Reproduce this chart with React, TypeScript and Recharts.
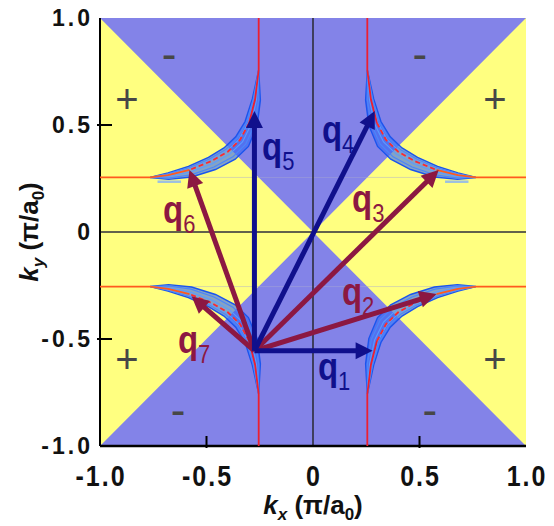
import React from 'react';
import {
  ComposedChart,
  Area,
  Scatter,
  XAxis,
  YAxis,
  ReferenceLine,
  CartesianGrid,
  Label,
} from 'recharts';

const FONT = '"Liberation Sans", Arial, Helvetica, sans-serif';
const BLUE_BG = '#8383e8';
const YELLOW = '#ffff80';
const NAVY = '#10108c';
const CRIMSON = '#8c1842';

// ---------- data ----------
const xTicks = [-1, -0.5, 0, 0.5, 1];
const yTicks = [-1, -0.5, 0, 0.5, 1];
const innerTicks = [-0.5, 0.5];

// "+" region (|ky| < |kx|), the rest of the zone is "-"
const yellowBand = [
  { x: -1, band: [-1, 1] },
  { x: 0, band: [0, 0] },
  { x: 1, band: [-1, 1] },
];

// upper-left Fermi-arc crescent; the other three follow by mirror symmetry
const fsTop = [
  { x: -0.255, y: 1 },
  { x: -0.255, y: 0.757 },
  { x: -0.272, y: 0.62 },
  { x: -0.3, y: 0.51 },
];
const fsMid = [
  { x: -0.3, y: 0.51 },
  { x: -0.343, y: 0.43 },
  { x: -0.4, y: 0.375 },
  { x: -0.48, y: 0.33 },
  { x: -0.58, y: 0.29 },
];
const fsSide = [
  { x: -0.58, y: 0.29 },
  { x: -0.68, y: 0.266 },
  { x: -0.765, y: 0.255 },
  { x: -1, y: 0.255 },
];
const lensA = [
  { x: -0.255, y: 0.757 },
  { x: -0.247, y: 0.616 },
  { x: -0.262, y: 0.498 },
  { x: -0.303, y: 0.4 },
  { x: -0.365, y: 0.34 },
  { x: -0.458, y: 0.292 },
  { x: -0.57, y: 0.257 },
  { x: -0.678, y: 0.246 },
  { x: -0.765, y: 0.255 },
  { x: -0.681, y: 0.276 },
  { x: -0.585, y: 0.307 },
  { x: -0.491, y: 0.349 },
  { x: -0.418, y: 0.393 },
  { x: -0.363, y: 0.445 },
  { x: -0.319, y: 0.516 },
  { x: -0.285, y: 0.622 },
  { x: -0.255, y: 0.757 },
];
const lensB = [
  { x: -0.255, y: 0.757 },
  { x: -0.255, y: 0.617 },
  { x: -0.274, y: 0.502 },
  { x: -0.316, y: 0.41 },
  { x: -0.376, y: 0.351 },
  { x: -0.465, y: 0.304 },
  { x: -0.573, y: 0.267 },
  { x: -0.679, y: 0.252 },
  { x: -0.765, y: 0.255 },
  { x: -0.681, y: 0.272 },
  { x: -0.583, y: 0.3 },
  { x: -0.487, y: 0.341 },
  { x: -0.41, y: 0.386 },
  { x: -0.355, y: 0.439 },
  { x: -0.311, y: 0.514 },
  { x: -0.28, y: 0.621 },
  { x: -0.255, y: 0.757 },
];
const lensC = [
  { x: -0.255, y: 0.757 },
  { x: -0.265, y: 0.619 },
  { x: -0.289, y: 0.506 },
  { x: -0.331, y: 0.421 },
  { x: -0.39, y: 0.365 },
  { x: -0.473, y: 0.319 },
  { x: -0.577, y: 0.28 },
  { x: -0.679, y: 0.26 },
  { x: -0.765, y: 0.255 },
  { x: -0.68, y: 0.27 },
  { x: -0.581, y: 0.293 },
  { x: -0.482, y: 0.334 },
  { x: -0.404, y: 0.379 },
  { x: -0.347, y: 0.433 },
  { x: -0.304, y: 0.511 },
  { x: -0.275, y: 0.62 },
  { x: -0.255, y: 0.757 },
];
const shadowSeg = [
  { x: -0.73, y: 0.235 },
  { x: -0.62, y: 0.235 },
];
const quadrants = [
  { sx: 1, sy: 1 },
  { sx: -1, sy: 1 },
  { sx: 1, sy: -1 },
  { sx: -1, sy: -1 },
];

// scattering vectors q1..q7 from the common octet point
const qOrigin = { x: -0.275, y: -0.555 };
const qTargets = [
  { sub: '1', x: 0.28, y: -0.555 },
  { sub: '2', x: 0.58, y: -0.29 },
  { sub: '3', x: 0.59, y: 0.29 },
  { sub: '4', x: 0.29, y: 0.565 },
  { sub: '5', x: -0.275, y: 0.565 },
  { sub: '6', x: -0.58, y: 0.29 },
  { sub: '7', x: -0.57, y: -0.3 },
];
const qLabels = [
  { sub: '1', x: 0.023, y: -0.692 },
  { sub: '2', x: 0.136, y: -0.341 },
  { sub: '3', x: 0.183, y: 0.093 },
  { sub: '4', x: 0.042, y: 0.416 },
  { sub: '5', x: -0.239, y: 0.336 },
  { sub: '6', x: -0.704, y: 0.042 },
  { sub: '7', x: -0.634, y: -0.565 },
];
const signs = [
  { sign: '+', x: -0.873, y: 0.621 },
  { sign: '+', x: 0.854, y: 0.621 },
  { sign: '+', x: -0.873, y: -0.593 },
  { sign: '+', x: 0.854, y: -0.593 },
  { sign: '-', x: -0.676, y: 0.818 },
  { sign: '-', x: 0.502, y: 0.818 },
  { sign: '-', x: -0.634, y: -0.846 },
  { sign: '-', x: 0.549, y: -0.846 },
];

// ---------- styling helpers ----------
const Q_COLOR: Record<string, string> = {
  '1': NAVY,
  '4': NAVY,
  '5': NAVY,
  '2': CRIMSON,
  '3': CRIMSON,
  '6': CRIMSON,
  '7': CRIMSON,
};

const mirror = (pts: { x: number; y: number }[], q: { sx: number; sy: number }) =>
  pts.map((p) => ({ x: p.x * q.sx, y: p.y * q.sy }));

const fmt = (v: number) => (v === 0 ? '0' : v.toFixed(1));

const NoDot = () => <g />;

const LeftTick = (props: any) => {
  const { x, y, payload } = props;
  const v = payload.value;
  const ax = x + 7;
  return (
    <g>
      {innerTicks.includes(v) && (
        <line x1={ax - 3} y1={y} x2={ax + 12} y2={y} stroke="#000" strokeWidth={2} />
      )}
      <text
        x={x}
        y={y}
        dy={8}
        textAnchor="end"
        fontFamily={FONT}
        fontWeight="bold"
        fontSize={23}
        letterSpacing={3}
        fill="#111"
      >
        {fmt(v)}
      </text>
    </g>
  );
};

const BottomTick = (props: any) => {
  const { x, y, payload } = props;
  const v = payload.value;
  const ay = y - 10;
  return (
    <g>
      {innerTicks.includes(v) && (
        <line x1={x} y1={ay + 2} x2={x} y2={ay - 10} stroke="#000" strokeWidth={2} />
      )}
      <g transform={`translate(${x + 1},${ay}) scale(1,1.15)`}>
        <text
          x={0}
          y={35}
          textAnchor="middle"
          fontFamily={FONT}
          fontWeight="bold"
          fontSize={25}
          letterSpacing={2}
          fill="#111"
        >
          {fmt(v)}
        </text>
      </g>
    </g>
  );
};

const TopTick = (props: any) => {
  const { x, y, payload } = props;
  if (!innerTicks.includes(payload.value)) return <g />;
  return <line x1={x} y1={y} x2={x} y2={y + 12} stroke="#000" strokeWidth={2} />;
};

const RightTick = (props: any) => {
  const { x, y, payload } = props;
  if (!innerTicks.includes(payload.value)) return <g />;
  return <line x1={x} y1={y} x2={x - 12} y2={y} stroke="#000" strokeWidth={2} />;
};

const XTitle = (props: any) => {
  const vb = props.viewBox || { x: 100, y: 446, width: 426, height: 80 };
  const cx = vb.x + vb.width / 2;
  const y = vb.y + 68;
  return (
    <text x={cx} y={y} textAnchor="middle" fontFamily={FONT} fontWeight="bold" fontSize={26} fill="#111">
      <tspan fontStyle="italic">k</tspan>
      <tspan fontStyle="italic" fontSize={17} dy={6}>x</tspan>
      <tspan dy={-6}>{'\u00a0(π/a'}</tspan>
      <tspan fontSize={17} dy={6}>0</tspan>
      <tspan dy={-6}>)</tspan>
    </text>
  );
};

const YTitle = (props: any) => {
  const vb = props.viewBox || { x: 8, y: 18, width: 92, height: 428 };
  const x = vb.x + 30;
  const cy = vb.y + vb.height / 2;
  return (
    <text
      x={x}
      y={cy}
      transform={`rotate(-90, ${x}, ${cy})`}
      textAnchor="middle"
      fontFamily={FONT}
      fontWeight="bold"
      fontSize={26}
      fill="#111"
    >
      <tspan fontStyle="italic">k</tspan>
      <tspan fontStyle="italic" fontSize={17} dy={6}>y</tspan>
      <tspan dy={-6}>{'\u00a0(π/a'}</tspan>
      <tspan fontSize={17} dy={6}>0</tspan>
      <tspan dy={-6}>)</tspan>
    </text>
  );
};

const makeArrow = (color: string) => (props: any) => {
  const { x1, y1, x2, y2 } = props;
  const dx = x2 - x1;
  const dy = y2 - y1;
  const len = Math.hypot(dx, dy) || 1;
  const ux = dx / len;
  const uy = dy / len;
  const L = 17;
  const W = 8.5;
  const bx = x2 - ux * L;
  const by = y2 - uy * L;
  const px = -uy;
  const py = ux;
  return (
    <g>
      <line x1={x1} y1={y1} x2={bx + ux * 2} y2={by + uy * 2} stroke={color} strokeWidth={5} />
      <polygon
        points={`${x2},${y2} ${bx + px * W},${by + py * W} ${bx - px * W},${by - py * W}`}
        fill={color}
      />
    </g>
  );
};

const QLabel = (p: any) => {
  const { cx, cy, payload } = p;
  const color = Q_COLOR[payload.sub];
  return (
    <text
      x={cx}
      y={cy}
      transform={`translate(0 ${cy}) scale(1 1.15) translate(0 ${-cy})`}
      fontFamily={FONT}
      fill={color}
    >
      <tspan fontSize={33} fontWeight="bold">q</tspan>
      <tspan fontSize={22} dy={9}>{payload.sub}</tspan>
    </text>
  );
};

const SignMark = (p: any) => {
  const plus = p.payload.sign === '+';
  return (
    <text
      x={p.cx}
      y={p.cy + (plus ? 14 : 12)}
      textAnchor="middle"
      fontFamily={FONT}
      fontSize={plus ? 40 : 44}
      fill="#474747"
    >
      {p.payload.sign}
    </text>
  );
};

export default function App() {
  const redFirst = [
    ...qTargets.filter((t) => Q_COLOR[t.sub] === CRIMSON),
    ...qTargets.filter((t) => Q_COLOR[t.sub] !== CRIMSON),
  ];
  return (
    <div style={{ fontFamily: FONT, marginTop: -8, marginLeft: -8 }}>
      <style>{'html,body{overflow:hidden}'}</style>
      <ComposedChart
        width={554}
        height={526}
        data={yellowBand}
        margin={{ top: 18, right: 28, bottom: 0, left: 8 }}
      >
        <CartesianGrid fill={BLUE_BG} fillOpacity={1} horizontal={false} vertical={false} stroke="none" />
        <XAxis
          dataKey="x"
          type="number"
          domain={[-1, 1]}
          ticks={xTicks}
          interval={0}
          allowDataOverflow
          height={80}
          tickSize={0}
          tickMargin={10}
          tick={BottomTick}
          axisLine={{ stroke: '#000', strokeWidth: 2.5 }}
        >
          <Label content={XTitle} />
        </XAxis>
        <XAxis
          xAxisId="top"
          orientation="top"
          type="number"
          domain={[-1, 1]}
          ticks={xTicks}
          interval={0}
          allowDataOverflow
          height={0}
          tickSize={0}
          tickMargin={0}
          tick={TopTick}
          axisLine={{ stroke: '#000', strokeWidth: 2 }}
        />
        <YAxis
          dataKey="y"
          type="number"
          domain={[-1, 1]}
          ticks={yTicks}
          interval={0}
          allowDataOverflow
          width={92}
          tickSize={0}
          tickMargin={7}
          tick={LeftTick}
          axisLine={{ stroke: '#000', strokeWidth: 2 }}
        >
          <Label content={YTitle} />
        </YAxis>
        <YAxis
          yAxisId="right"
          orientation="right"
          type="number"
          domain={[-1, 1]}
          ticks={yTicks}
          interval={0}
          allowDataOverflow
          width={0}
          tickSize={0}
          tickMargin={0}
          tick={RightTick}
          axisLine={{ stroke: '#000', strokeWidth: 2 }}
        />

        <Area
          dataKey="band"
          type="linear"
          fill={YELLOW}
          fillOpacity={1}
          stroke="none"
          isAnimationActive={false}
          dot={false}
          activeDot={false}
        />

        <ReferenceLine y={0.255} stroke="#a8a8d0" strokeOpacity={0.45} strokeWidth={1} zIndex={150} />
        <ReferenceLine y={-0.255} stroke="#a8a8d0" strokeOpacity={0.45} strokeWidth={1} zIndex={150} />
        <ReferenceLine x={0} stroke="#2e2e3a" strokeWidth={1.6} zIndex={160} />
        <ReferenceLine y={0} stroke="#2e2e3a" strokeWidth={1.6} zIndex={160} />

        {quadrants.map((q, i) => (
          <Scatter
            key={`la${i}`}
            data={mirror(lensA, q)}
            line={{ stroke: '#1a55ee', strokeWidth: 1.4, fill: '#3366f2', fillOpacity: 0.6 }}
            lineType="joint"
            shape={NoDot}
            isAnimationActive={false}
          />
        ))}
        {quadrants.map((q, i) => (
          <Scatter
            key={`lb${i}`}
            data={mirror(lensB, q)}
            line={{ stroke: '#4a86fb', strokeWidth: 1.2 }}
            lineType="joint"
            shape={NoDot}
            isAnimationActive={false}
          />
        ))}
        {quadrants.map((q, i) => (
          <Scatter
            key={`lc${i}`}
            data={mirror(lensC, q)}
            line={{ stroke: '#5a9bff', strokeWidth: 1.1 }}
            lineType="joint"
            shape={NoDot}
            isAnimationActive={false}
          />
        ))}
        {quadrants
          .filter((q) => q.sy > 0)
          .map((q, i) => (
            <Scatter
              key={`sh${i}`}
              data={mirror(shadowSeg, q)}
              line={{ stroke: '#9cc0e0', strokeWidth: 2.5 }}
              lineType="joint"
              shape={NoDot}
              isAnimationActive={false}
            />
          ))}
        {quadrants.map((q, i) => (
          <Scatter
            key={`ft${i}`}
            data={mirror(fsTop, q)}
            line={{ stroke: '#ec2030', strokeWidth: 1.8 }}
            lineType="joint"
            shape={NoDot}
            isAnimationActive={false}
          />
        ))}
        {quadrants.map((q, i) => (
          <Scatter
            key={`fm${i}`}
            data={mirror(fsMid, q)}
            line={{ stroke: '#ff2a2a', strokeWidth: 1.8, strokeDasharray: '5 3' }}
            lineType="joint"
            shape={NoDot}
            isAnimationActive={false}
          />
        ))}
        {quadrants.map((q, i) => (
          <Scatter
            key={`fs${i}`}
            data={mirror(fsSide, q)}
            line={{ stroke: '#ff5a1e', strokeWidth: 1.8 }}
            lineType="joint"
            shape={NoDot}
            isAnimationActive={false}
          />
        ))}

        {redFirst.map((t) => (
          <ReferenceLine
            key={`q${t.sub}`}
            segment={[
              { x: qOrigin.x, y: qOrigin.y },
              { x: t.x, y: t.y },
            ]}
            shape={makeArrow(Q_COLOR[t.sub])}
            zIndex={700}
          />
        ))}

        <Scatter data={signs} shape={SignMark} isAnimationActive={false} zIndex={800} />
        <Scatter data={qLabels} shape={QLabel} isAnimationActive={false} zIndex={800} />
      </ComposedChart>
    </div>
  );
}
